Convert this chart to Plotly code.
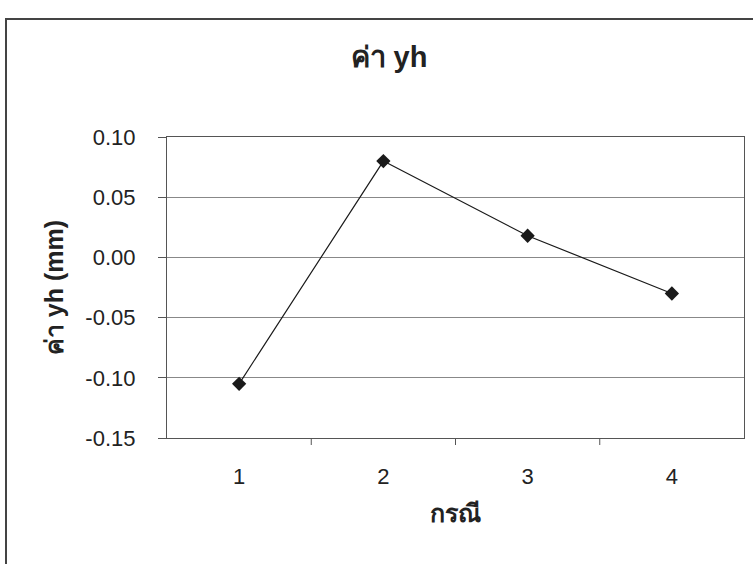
import plotly.graph_objects as go

# Data
cases = [1, 2, 3, 4]
yh_values = [-0.105, 0.080, 0.018, -0.030]
y_tick_vals = [0.10, 0.05, 0.00, -0.05, -0.10, -0.15]
y_tick_text = ["0.10", "0.05", "0.00", "-0.05", "-0.10", "-0.15"]

FONT = "Liberation Sans, Arial, Noto Sans, sans-serif"

fig = go.Figure()
fig.add_trace(go.Scatter(
    x=cases, y=yh_values, mode="lines+markers",
    line=dict(color="#1a1a1a", width=1.2),
    marker=dict(symbol="diamond", size=11, color="#1a1a1a"),
    showlegend=False,
))

W, H = 753, 564
L, R, T, B = 167, 9, 137, 126
pw, ph = W - L - R, H - T - B

def px_to_paper_x(px):
    return (px - L) / pw

def px_to_paper_y(py):
    return (H - B - py) / ph

fig.update_layout(
    width=W, height=H,
    margin=dict(l=L, r=R, t=T, b=B),
    paper_bgcolor="white", plot_bgcolor="white",
    font=dict(family=FONT, color="#222222", size=22),
    title=dict(text="<b>ค่า yh</b>", x=389 / W, xanchor="center", y=1 - 57 / H,
               yanchor="middle", font=dict(size=29, family=FONT)),
    xaxis=dict(
        range=[0.5, 4.5], tickvals=cases, ticktext=[str(c) for c in cases],
        ticks="", showgrid=False, zeroline=False,
        showline=True, linecolor="#555555", linewidth=1.2, mirror=True,
        ticklabelstandoff=18,
        title=dict(text="<b>กรณี</b>", font=dict(size=25), standoff=16),
        tickfont=dict(size=22),
    ),
    yaxis=dict(
        range=[-0.15, 0.10], tickvals=y_tick_vals, ticktext=y_tick_text,
        ticks="outside", ticklen=8, tickcolor="#555555",
        ticklabelstandoff=18,
        showgrid=True, gridcolor="#888888", gridwidth=1,
        zeroline=False, showline=True, linecolor="#555555", linewidth=1.2, mirror=True,
        title=dict(text="<b>ค่า yh (mm)</b>", font=dict(size=25), standoff=14),
        tickfont=dict(size=22),
    ),
)

# Category boundary ticks on the x axis
for xb in [1.5, 2.5, 3.5]:
    fig.add_shape(type="line", xref="x", yref="paper", x0=xb, x1=xb,
                  y0=0, y1=-7 / ph, line=dict(color="#555555", width=1))

# Outer chart frame
fig.add_shape(type="rect", xref="paper", yref="paper",
              x0=px_to_paper_x(6), x1=px_to_paper_x(770),
              y0=px_to_paper_y(580), y1=px_to_paper_y(19),
              line=dict(color="#444444", width=2), fillcolor="rgba(0,0,0,0)",
              layer="below")

fig.write_html("out.html")
